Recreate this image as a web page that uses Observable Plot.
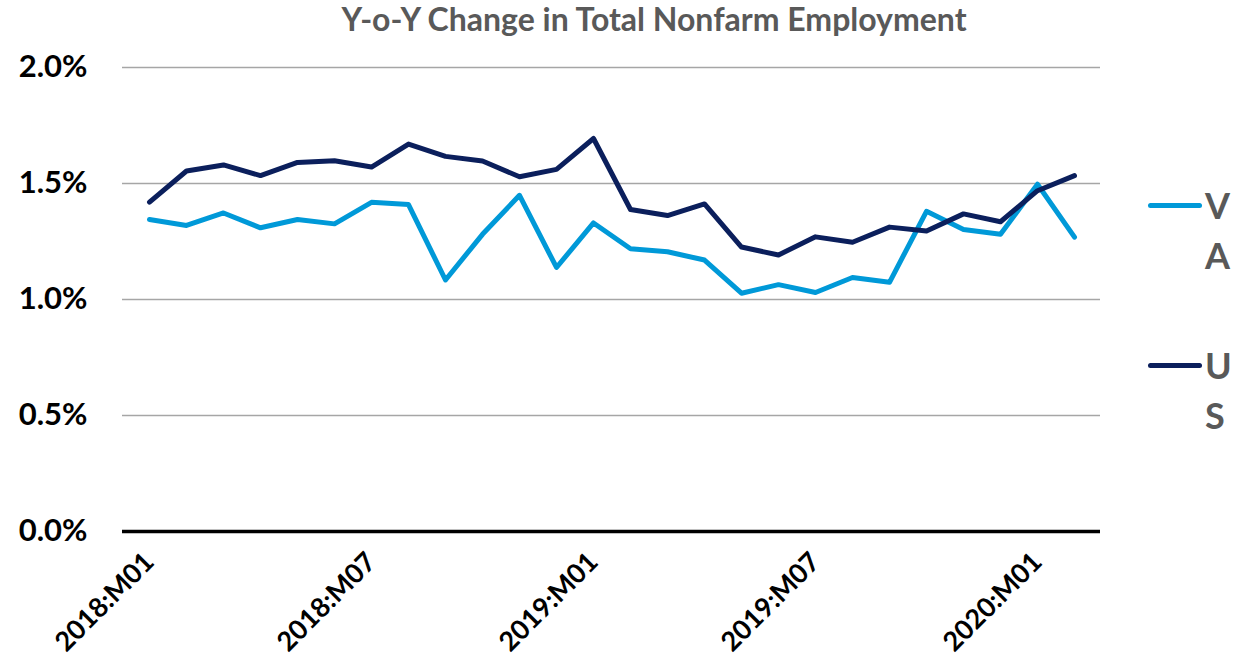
<!DOCTYPE html>
<html>
<head>
<meta charset="utf-8">
<script src="https://cdn.jsdelivr.net/npm/d3@7"></script>
<script src="https://cdn.jsdelivr.net/npm/@observablehq/plot@0.6"></script>
<style>
  html, body { margin: 0; padding: 0; background: #fff; }
  #wrap { position: relative; width: 1238px; height: 670px; overflow: hidden; font-family: Lato, "Open Sans", sans-serif; }
  #title { position: absolute; left: 0; top: 1px; width: 1238px; box-sizing: border-box; padding-left: 70px; text-align: center; font-size: 32px; font-weight: bold; color: #595959; line-height: 36px; }
  #chart { position: absolute; left: 0; top: 40px; }
  .leg { position: absolute; }
  .leg .sw { position: absolute; left: 0; width: 54px; height: 5px; border-radius: 3px; }
  .leg .lab { position: absolute; left: 57px; top: 0; width: 30px; font-size: 36px; font-weight: bold; color: #595959; word-break: break-all; line-height: 50px; }
</style>
</head>
<body>
<div id="wrap">
  <div id="title">Y-o-Y Change in Total Nonfarm Employment</div>
  <div id="chart"></div>
</div>
<script>
const months = [
  "2018:M01","2018:M02","2018:M03","2018:M04","2018:M05","2018:M06",
  "2018:M07","2018:M08","2018:M09","2018:M10","2018:M11","2018:M12",
  "2019:M01","2019:M02","2019:M03","2019:M04","2019:M05","2019:M06",
  "2019:M07","2019:M08","2019:M09","2019:M10","2019:M11","2019:M12",
  "2020:M01","2020:M02"
];
const va = [1.345,1.319,1.373,1.309,1.345,1.326,1.419,1.409,1.084,1.281,1.449,1.138,1.330,
            1.219,1.206,1.170,1.027,1.064,1.030,1.095,1.074,1.380,1.302,1.281,1.497,1.269];
const us = [1.420,1.554,1.580,1.534,1.591,1.598,1.571,1.670,1.617,1.597,1.529,1.561,1.694,
            1.388,1.362,1.412,1.226,1.192,1.270,1.247,1.312,1.295,1.369,1.335,1.469,1.534];
const seriesNames = ["VA","US"];
const seriesColors = ["#0099D8","#0B1F5C"];
const xTickLabels = ["2018:M01","2018:M07","2019:M01","2019:M07","2020:M01"];
const yTicks = [0, 0.5, 1.0, 1.5, 2.0];

const rows = [];
months.forEach((m, i) => {
  rows.push({month: m, series: "VA", value: va[i]});
  rows.push({month: m, series: "US", value: us[i]});
});

const chart = Plot.plot({
  width: 1238,
  height: 630,
  marginLeft: 122,
  marginRight: 138,
  marginTop: 27,
  marginBottom: 139,
  style: {fontFamily: "Lato, 'Open Sans', sans-serif", background: "#fff"},
  x: {type: "point", domain: months, padding: 0.5, axis: null, label: null},
  y: {domain: [0, 2], axis: null, label: null},
  color: {domain: seriesNames, range: seriesColors},
  marks: [
    Plot.ruleY(yTicks.filter(d => d > 0), {stroke: "#a6a6a6", strokeWidth: 1.5}),
    Plot.ruleY([0], {stroke: "#000", strokeWidth: 3.5}),
    Plot.axisY({ticks: yTicks, tickSize: 0, tickPadding: 35, tickFormat: d => d.toFixed(1) + "%",
                label: null, fontSize: 31, fontWeight: "bold", fill: "#000"}),
    Plot.axisX({ticks: xTickLabels, tickSize: 0, tickPadding: 26, tickRotate: -45,
                label: null, fontSize: 27, fontWeight: "bold", fill: "#000"}),
    Plot.line(rows, {x: "month", y: "value", stroke: "series", z: "series", strokeWidth: 5,
                     strokeLinejoin: "round", strokeLinecap: "round"})
  ]
});
document.getElementById("chart").appendChild(chart);

// legend (right side)
const legendTops = [180, 340];
const wrap = document.getElementById("wrap");
seriesNames.forEach((name, i) => {
  const g = document.createElement("div");
  g.className = "leg";
  g.style.left = "1148px";
  g.style.top = legendTops[i] + "px";
  const sw = document.createElement("div");
  sw.className = "sw";
  sw.style.top = "23px";
  sw.style.background = seriesColors[i];
  const lab = document.createElement("div");
  lab.className = "lab";
  lab.textContent = name;
  g.appendChild(sw);
  g.appendChild(lab);
  wrap.appendChild(g);
});
</script>
</body>
</html>
